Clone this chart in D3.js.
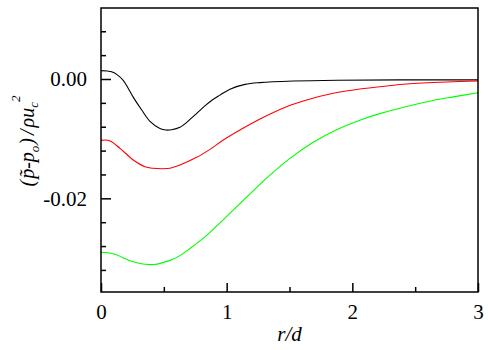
<!DOCTYPE html>
<html lang="en">

<head>
  <meta charset="UTF-8">
  <title>Pressure vs r/d</title>
  <script src="https://d3js.org/d3.v7.min.js"></script>
  <style>
    body {
      margin: 0;
      background: #fff;
    }
  </style>
</head>

<body>
  <div id="chart"></div>

  <script>
    // values
    const rBlack = [0, 0.05, 0.085, 0.13, 0.175, 0.215, 0.255, 0.324, 0.39, 0.469, 0.517, 0.562, 0.628, 0.68, 0.748, 0.827, 0.88, 0.947, 1.026, 1.146, 1.265, 1.53, 1.88, 2.38, 3];
    const pBlack = [0.0014, 0.00135, 0.0012, 0.0007, -0.0002, -0.0015, -0.003, -0.0052, -0.0071, -0.0083, -0.00855, -0.0085, -0.0081, -0.0073, -0.006, -0.0045, -0.0036, -0.0027, -0.0017, -0.0009, -0.0006, -0.00034, -0.0002, -0.00015, -0.00015];

    const rRed = [0, 0.064, 0.151, 0.257, 0.35, 0.414, 0.485, 0.549, 0.628, 0.761, 0.867, 0.973, 1.106, 1.265, 1.477, 1.637, 1.848, 2.06, 2.273, 2.432, 2.75, 3];
    const pRed = [-0.01028, -0.0103, -0.01162, -0.01358, -0.0147, -0.01497, -0.01505, -0.01497, -0.01442, -0.01313, -0.01179, -0.01023, -0.00855, -0.0067, -0.00464, -0.00352, -0.0024, -0.00168, -0.00117, -0.00084, -0.0005, -0.00034];

    const rGreen = [0, 0.098, 0.231, 0.334, 0.42, 0.549, 0.628, 0.708, 0.841, 0.947, 1.159, 1.318, 1.503, 1.689, 1.875, 2.06, 2.219, 2.432, 2.643, 2.803, 3];
    const pGreen = [-0.02905, -0.0293, -0.03046, -0.031, -0.0311, -0.0304, -0.0296, -0.0284, -0.0262, -0.0241, -0.0198, -0.0166, -0.0133, -0.0106, -0.0085, -0.0069, -0.0058, -0.0046, -0.0036, -0.003, -0.0023];

    const xMajor = [0, 1, 2, 3];
    const xMinor = [0.5, 1.5, 2.5];
    const yMajor = [0, -0.02];
    const yMinor = [0.008, 0.004, -0.004, -0.008, -0.012, -0.016, -0.024, -0.028, -0.032];

    const series = [
      { r: rBlack, p: pBlack, color: "#000000" },
      { r: rRed, p: pRed, color: "#ff0000" },
      { r: rGreen, p: pGreen, color: "#00ff00" }
    ];

    const serif = "'Liberation Serif', 'Times New Roman', Times, serif";

    const W = 488, H = 350;
    const plotLeft = 101, plotRight = 478, plotTop = 8, plotBottom = 292;

    const svg = d3.select("#chart")
      .append("svg")
      .attr("width", W)
      .attr("height", H);

    const x = d3.scaleLinear().domain([0, 3]).range([plotLeft, plotRight]);
    const y = d3.scaleLinear().domain([-0.0357, 0.0119]).range([plotBottom, plotTop]);

    // curves
    const line = d3.line()
      .x(d => x(d[0]))
      .y(d => y(d[1]))
      .curve(d3.curveCatmullRom.alpha(0.5));

    series.forEach(s => {
      svg.append("path")
        .datum(d3.zip(s.r, s.p))
        .attr("fill", "none")
        .attr("stroke", s.color)
        .attr("stroke-width", 1.1)
        .attr("d", line);
    });

    // y axis ticks (inward)
    svg.append("g")
      .attr("transform", `translate(${plotLeft},0)`)
      .call(d3.axisLeft(y).tickValues(yMinor).tickSize(-5).tickFormat(""))
      .call(g => g.select(".domain").remove());

    svg.append("g")
      .attr("transform", `translate(${plotLeft},0)`)
      .call(d3.axisLeft(y).tickValues(yMajor).tickSize(-10).tickPadding(14)
        .tickFormat(d => d.toFixed(2)))
      .call(g => g.select(".domain").remove())
      .call(g => g.selectAll("text")
        .style("font-family", serif).style("font-size", "21px").attr("fill", "#000"));

    // x axis ticks (inward)
    svg.append("g")
      .attr("transform", `translate(0,${plotBottom})`)
      .call(d3.axisBottom(x).tickValues(xMinor).tickSize(-5).tickFormat(""))
      .call(g => g.select(".domain").remove());

    svg.append("g")
      .attr("transform", `translate(0,${plotBottom})`)
      .call(d3.axisBottom(x).tickValues(xMajor).tickSize(-9).tickPadding(12)
        .tickFormat(d3.format("d")))
      .call(g => g.select(".domain").remove())
      .call(g => g.selectAll("text")
        .style("font-family", serif).style("font-size", "21px").attr("fill", "#000"));

    svg.selectAll(".tick line")
      .attr("stroke", "#000")
      .attr("stroke-width", 1.5);

    // frame
    svg.append("rect")
      .attr("x", plotLeft)
      .attr("y", plotTop)
      .attr("width", plotRight - plotLeft)
      .attr("height", plotBottom - plotTop)
      .attr("fill", "none")
      .attr("stroke", "#000")
      .attr("stroke-width", 1.5);

    // x title
    svg.append("text")
      .style("font-family", serif)
      .style("font-size", "21px")
      .style("font-style", "italic")
      .attr("text-anchor", "middle")
      .attr("x", (plotLeft + plotRight) / 2)
      .attr("y", 341)
      .text("r/d");

    // y title
    const yt = svg.append("text")
      .style("font-family", serif)
      .style("font-size", "20px")
      .style("font-style", "italic")
      .attr("text-anchor", "middle")
      .attr("transform", "translate(34,141) rotate(-90)");
    yt.append("tspan").text("(");
    yt.append("tspan").attr("dx", 1).text("p\u0303-p");
    yt.append("tspan").style("font-size", "13px").attr("dy", 5).text("o");
    yt.append("tspan").attr("dy", -5).attr("dx", 1).text(")");
    yt.append("tspan").attr("dx", 3).text("/");
    yt.append("tspan").attr("dx", 2).text("\u03c1u");
    yt.append("tspan").style("font-size", "13px").attr("dy", 4).text("c");
    yt.append("tspan").style("font-size", "13px").attr("dy", -18).attr("dx", 0).text("2");
  </script>
</body>

</html>
